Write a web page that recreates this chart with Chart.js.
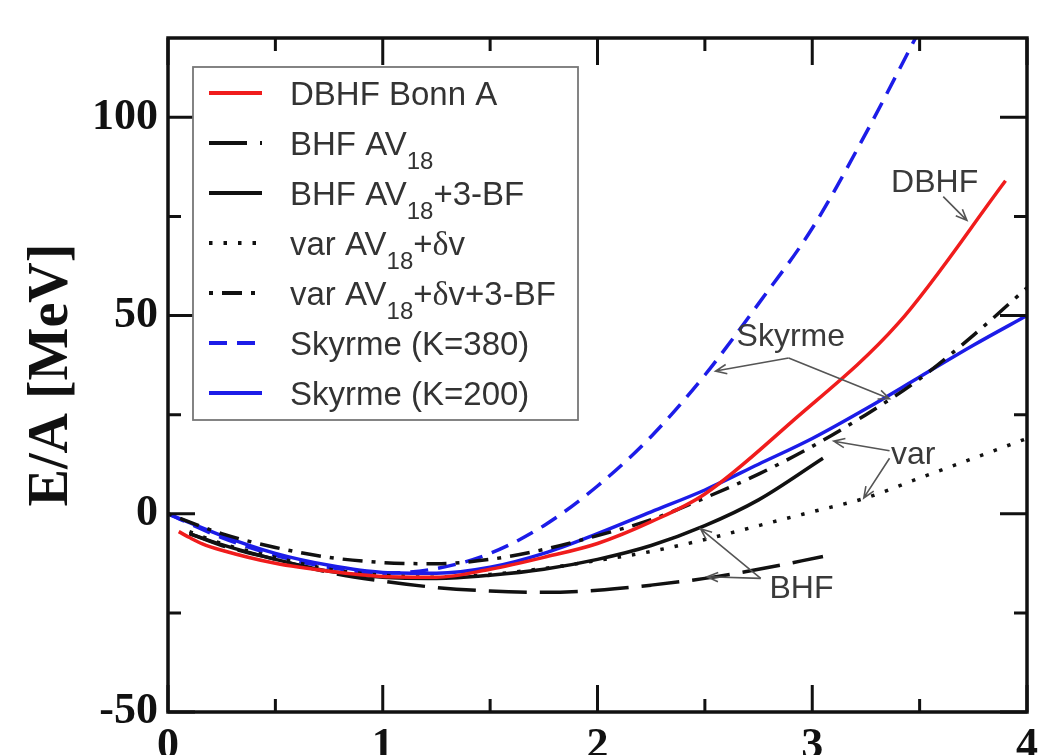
<!DOCTYPE html>
<html>
<head>
<meta charset="utf-8">
<script src="https://cdn.jsdelivr.net/npm/chart.js@4.4.1/dist/chart.umd.min.js"></script>
<style>
  html, body { margin: 0; padding: 0; background: #fff; overflow: hidden; }
  #wrap { width: 1046px; height: 800px; }
</style>
</head>
<body>
<div id="wrap"><canvas id="eos" width="1046" height="800"></canvas></div>
<script>
/* Nuclear matter EOS: E/A vs density (rho/rho0) */

// DBHF Bonn A (red solid)
const rhoDBHF = [0.05, 0.1, 0.16, 0.25, 0.5, 0.75, 1.0, 1.25, 1.5, 1.75, 2.0, 2.25, 2.5, 2.9, 3.4, 3.9];
const eDBHF   = [-4.5, -6.0, -7.6, -9.2, -12.5, -14.5, -15.8, -16.0, -14.0, -11.0, -7.5, -2.0, 5.0, 23.0, 48.0, 84.0];

// BHF AV18 (black long dash)
const rhoBHF = [0.1, 0.25, 0.5, 0.75, 1.0, 1.25, 1.5, 1.75, 2.0, 2.25, 2.5, 2.75, 3.05];
const eBHF   = [-5.0, -8.0, -11.5, -14.8, -17.0, -18.6, -19.5, -19.8, -19.3, -18.0, -16.3, -14.0, -10.8];

// BHF AV18 + 3-BF (black solid)
const rhoBHF3 = [0.1, 0.25, 0.5, 0.75, 1.0, 1.25, 1.5, 1.75, 2.0, 2.25, 2.5, 2.75, 3.05];
const eBHF3   = [-5.0, -7.8, -11.5, -14.5, -16.0, -16.3, -15.5, -14.0, -11.5, -8.0, -3.0, 3.5, 14.0];

// var AV18 + dv (black dotted)
const rhoVar = [0.1, 0.25, 0.5, 0.75, 1.0, 1.25, 1.5, 1.75, 2.0, 2.25, 2.5, 2.75, 3.0, 3.25, 3.5, 3.75, 4.0];
const eVar   = [-4.5, -7.5, -11.0, -14.0, -15.5, -16.0, -15.3, -13.8, -11.8, -9.5, -6.5, -3.0, 0.5, 4.0, 9.0, 14.0, 19.0];

// var AV18 + dv + 3-BF (black dash-dot)
const rhoVar3 = [0, 0.25, 0.5, 0.75, 1.0, 1.25, 1.5, 1.75, 2.0, 2.25, 2.5, 2.75, 3.0, 3.25, 3.5, 3.75, 4.0];
const eVar3   = [0, -5.0, -8.5, -11.0, -12.3, -12.6, -11.5, -9.0, -5.5, -1.5, 4.0, 10.0, 17.0, 25.0, 34.0, 45.0, 57.0];

// Skyrme K=380 (blue dashed)
const rhoSk380 = [0, 0.25, 0.5, 0.75, 1.0, 1.25, 1.5, 1.75, 2.0, 2.25, 2.5, 2.75, 3.0, 3.25, 3.5];
const eSk380   = [0, -6.0, -10.5, -13.5, -15.0, -13.8, -10.0, -3.0, 7.0, 19.5, 35.0, 53.0, 72.0, 96.0, 122.0];

// Skyrme K=200 (blue solid)
const rhoSk200 = [0, 0.25, 0.5, 0.75, 1.0, 1.25, 1.5, 1.75, 2.0, 2.25, 2.5, 2.75, 3.0, 3.25, 3.5, 3.75, 4.0];
const eSk200   = [0, -5.5, -10.0, -13.0, -14.8, -15.0, -13.5, -10.0, -5.0, 0.5, 6.0, 12.5, 19.0, 26.5, 34.5, 42.5, 50.0];

// axes
const xTickVals  = [0, 1, 2, 3, 4];
const xMinorVals = [0.5, 1.5, 2.5, 3.5];
const yTickVals  = [-50, 0, 50, 100];
const yMinorVals = [-25, 25, 75];

// legend labels, split in [text, kind] parts for the AV18 subscripts
const legendLabels = [
  [['DBHF Bonn A']],
  [['BHF AV'], ['18', 'sub']],
  [['BHF AV'], ['18', 'sub'], ['+3-BF']],
  [['var AV'], ['18', 'sub'], ['+'], ['δ', 'greek'], ['v']],
  [['var AV'], ['18', 'sub'], ['+'], ['δ', 'greek'], ['v+3-BF']],
  [['Skyrme (K=380)']],
  [['Skyrme (K=200)']],
];

// callout labels: text position + arrow (from, tip), in data units
const callouts = [
  { text: 'DBHF',   at: [3.57, 83.5], arrows: [[[3.61, 80.0], [3.72, 74.0]]] },
  { text: 'Skyrme', at: [2.90, 44.5], arrows: [[[2.89, 39.3], [2.55, 36.0]], [[2.89, 39.3], [3.36, 29.0]]] },
  { text: 'var',    at: [3.47, 14.8], arrows: [[[3.36, 15.9], [3.10, 18.3]], [[3.36, 14.0], [3.24, 4.0]]] },
  { text: 'BHF',    at: [2.95, -18.9], arrows: [[[2.76, -16.3], [2.48, -3.8]], [[2.76, -16.3], [2.51, -15.9]]] },
];

const RED = '#f01c1c', BLUE = '#1c1ce8', BLACK = '#111';
const pts = (xs, ys) => xs.map((x, i) => ({ x, y: ys[i] }));
const SERIF = '"Liberation Serif", "Times New Roman", serif';
const SANS  = '"Liberation Sans", Arial, sans-serif';

const datasets = [
  { label: 'DBHF Bonn A',        data: pts(rhoDBHF, eDBHF),   borderColor: RED,   borderDash: [] },
  { label: 'BHF AV18',           data: pts(rhoBHF, eBHF),     borderColor: BLACK, borderDash: [38, 13] },
  { label: 'BHF AV18+3-BF',      data: pts(rhoBHF3, eBHF3),   borderColor: BLACK, borderDash: [] },
  { label: 'var AV18+dv',        data: pts(rhoVar, eVar),     borderColor: BLACK, borderDash: [3.5, 11] },
  { label: 'var AV18+dv+3-BF',   data: pts(rhoVar3, eVar3),   borderColor: BLACK, borderDash: [4, 9, 20, 9] },
  { label: 'Skyrme (K=380)',     data: pts(rhoSk380, eSk380), borderColor: BLUE,  borderDash: [18, 10] },
  { label: 'Skyrme (K=200)',     data: pts(rhoSk200, eSk200), borderColor: BLUE,  borderDash: [] },
].map(d => ({ ...d, borderWidth: 3.5, pointRadius: 0, cubicInterpolationMode: 'monotone', fill: false }));

/* ── frame with inward major/minor ticks on all four sides ── */
const frameTicks = {
  id: 'frameTicks',
  afterDatasetsDraw(chart) {
    const { ctx, chartArea: a, scales: { x, y } } = chart;
    ctx.save();
    ctx.strokeStyle = BLACK;
    ctx.lineWidth = 3;
    ctx.beginPath();
    const xt = (v, len) => {
      const p = x.getPixelForValue(v);
      ctx.moveTo(p, a.bottom); ctx.lineTo(p, a.bottom - len);
      ctx.moveTo(p, a.top);    ctx.lineTo(p, a.top + len);
    };
    const yt = (v, len) => {
      const p = y.getPixelForValue(v);
      ctx.moveTo(a.left, p);  ctx.lineTo(a.left + len, p);
      ctx.moveTo(a.right, p); ctx.lineTo(a.right - len, p);
    };
    xTickVals.forEach(v => xt(v, 27));
    xMinorVals.forEach(v => xt(v, 13));
    yTickVals.forEach(v => yt(v, 27));
    yMinorVals.forEach(v => yt(v, 13));
    ctx.stroke();
    ctx.lineWidth = 3.5;
    ctx.strokeRect(a.left, a.top, a.right - a.left, a.bottom - a.top);
    ctx.restore();
  }
};

/* ── callout texts with arrows ── */
const calloutPlugin = {
  id: 'callouts',
  afterDatasetsDraw(chart) {
    const { ctx, scales: { x, y } } = chart;
    ctx.save();
    ctx.strokeStyle = '#555';
    ctx.fillStyle = '#3a3a3a';
    ctx.lineWidth = 1.6;
    ctx.font = '32px ' + SANS;
    ctx.textAlign = 'center';
    ctx.textBaseline = 'middle';
    callouts.forEach(c => {
      ctx.fillText(c.text, x.getPixelForValue(c.at[0]), y.getPixelForValue(c.at[1]));
      c.arrows.forEach(([from, to]) => {
        const x0 = x.getPixelForValue(from[0]), y0 = y.getPixelForValue(from[1]);
        const x1 = x.getPixelForValue(to[0]),   y1 = y.getPixelForValue(to[1]);
        const ang = Math.atan2(y1 - y0, x1 - x0);
        ctx.beginPath();
        ctx.moveTo(x0, y0); ctx.lineTo(x1, y1);
        ctx.moveTo(x1 - 12 * Math.cos(ang - 0.4), y1 - 12 * Math.sin(ang - 0.4));
        ctx.lineTo(x1, y1);
        ctx.lineTo(x1 - 12 * Math.cos(ang + 0.4), y1 - 12 * Math.sin(ang + 0.4));
        ctx.stroke();
      });
    });
    ctx.restore();
  }
};

/* ── boxed legend (drawn by hand for the AV18 subscripts) ── */
const legendPlugin = {
  id: 'boxLegend',
  afterDraw(chart) {
    const { ctx, chartArea: a } = chart;
    const bx = a.left + 25, by = a.top + 29, bw = 385, bh = 353;
    ctx.save();
    ctx.fillStyle = '#fff';
    ctx.fillRect(bx, by, bw, bh);
    ctx.strokeStyle = '#777';
    ctx.lineWidth = 1.8;
    ctx.strokeRect(bx, by, bw, bh);
    legendLabels.forEach((parts, i) => {
      const ds = chart.data.datasets[i];
      const rowY = by + 26 + i * 50;
      ctx.strokeStyle = ds.borderColor;
      ctx.lineWidth = 4;
      ctx.setLineDash(ds.borderDash);
      ctx.beginPath();
      ctx.moveTo(bx + 16, rowY); ctx.lineTo(bx + 69, rowY);
      ctx.stroke();
      ctx.setLineDash([]);
      let tx = bx + 97;
      ctx.fillStyle = '#333';
      ctx.textBaseline = 'alphabetic';
      ctx.textAlign = 'left';
      parts.forEach(([str, kind]) => {
        let dy = 12;
        if (kind === 'sub') { ctx.font = '24px ' + SANS; dy = 26; }
        else if (kind === 'greek') ctx.font = '34px ' + SERIF;
        else ctx.font = '33px ' + SANS;
        ctx.fillText(str, tx, rowY + dy);
        tx += ctx.measureText(str).width;
      });
    });
    ctx.restore();
  }
};

new Chart(document.getElementById('eos'), {
  type: 'line',
  data: { datasets },
  options: {
    responsive: false,
    animation: false,
    devicePixelRatio: 1,
    layout: { padding: { top: 38, right: 14, left: 0, bottom: 0 } },
    plugins: { legend: { display: false }, tooltip: { enabled: false } },
    scales: {
      x: {
        type: 'linear', min: 0, max: 4,
        grid: { display: false, drawTicks: false },
        border: { display: false },
        afterBuildTicks: s => { s.ticks = xTickVals.map(value => ({ value })); },
        afterFit: s => { s.height = 88; },
        ticks: { padding: 8, color: BLACK, font: { family: SERIF, weight: 'bold', size: 44 } }
      },
      y: {
        type: 'linear', min: -50, max: 120,
        grid: { display: false, drawTicks: false },
        border: { display: false },
        afterBuildTicks: s => { s.ticks = yTickVals.map(value => ({ value })); },
        afterFit: s => { s.width = 168; },
        title: { display: true, text: 'E/A [MeV]', color: BLACK, padding: { top: 19, bottom: 0 },
                 font: { family: SERIF, weight: 'bold', size: 56 } },
        ticks: { padding: 10, color: BLACK, font: { family: SERIF, weight: 'bold', size: 44 } }
      }
    }
  },
  plugins: [frameTicks, calloutPlugin, legendPlugin]
});
</script>
</body>
</html>
